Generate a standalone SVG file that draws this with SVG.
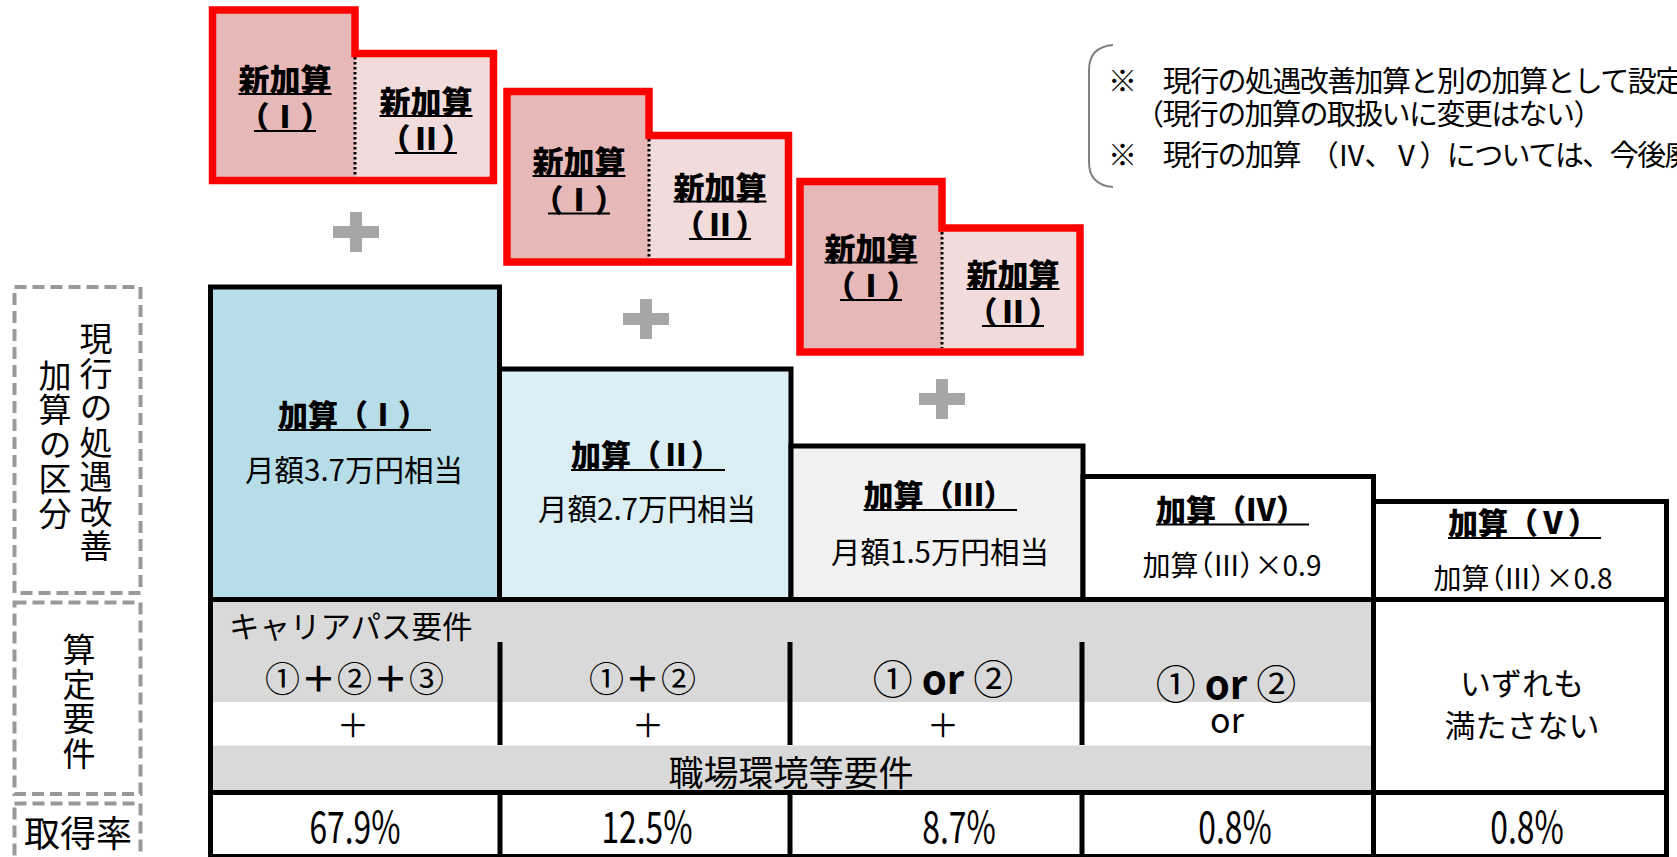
<svg xmlns="http://www.w3.org/2000/svg" width="1677" height="857" viewBox="0 0 1677 857">
<style>
text{font-family:'Noto Sans CJK JP','Noto Sans CJK SC',sans-serif;fill:#000}
.m{text-anchor:middle}
.nb{font-size:31px;font-weight:900;text-anchor:middle}
.hd{font-size:30px;font-weight:900}
.sub{font-size:29.5px;text-anchor:middle}
.sub2{font-size:28px;text-anchor:middle;font-feature-settings:'palt' 1}
.ul{stroke:#000;stroke-width:2}
.redo{fill:none;stroke:#FF0000;stroke-width:7.5;stroke-linejoin:miter}
.pk1{fill:#E6B9B8}
.pk2{fill:#F2DCDB}
.dot{stroke:#000;stroke-width:3;stroke-dasharray:2.5 2.5;fill:none}
.plus{fill:#A6A6A6}
.box{stroke:#000;stroke-width:5}
.dash{fill:none;stroke:#999;stroke-width:4;stroke-dasharray:12 6}
.vl{font-size:33px;text-anchor:middle;writing-mode:vertical-rl;letter-spacing:1.5px}
.ln{stroke:#000;stroke-width:5}
.rate{font-size:43px;text-anchor:middle}
.note{font-size:29px;letter-spacing:-1.6px}
</style>

<!-- New addition blocks -->
<g id="new-add-1">
<rect class="pk1" x="212.5" y="10" width="142.5" height="170.5"/>
<rect class="pk2" x="355" y="53.5" width="138.5" height="127"/>
<path class="dot" d="M355 57V177"/>
<path class="redo" d="M212.5 10H355V53.5H493.5V180.5H212.5Z"/>
<text class="nb" x="285" y="91">新加算</text>
<text class="nb" x="285" y="128">（Ⅰ）</text>
<text class="nb" x="426" y="113">新加算</text>
<text class="nb" x="426" y="150">（Ⅱ）</text>
<path class="ul" d="M238.5 94H331.5M254 131H316M379.5 116H472.5M395 153H457"/>
</g>

<g id="new-add-2">
<rect class="pk1" x="507" y="91.5" width="142" height="170.5"/>
<rect class="pk2" x="649" y="135.5" width="139.5" height="126.5"/>
<path class="dot" d="M649 139V258"/>
<path class="redo" d="M507 91.5H649V135.5H788.5V262H507Z"/>
<text class="nb" x="579" y="173">新加算</text>
<text class="nb" x="579" y="210.5">（Ⅰ）</text>
<text class="nb" x="720" y="198.5">新加算</text>
<text class="nb" x="720" y="236">（Ⅱ）</text>
<path class="ul" d="M532.5 176H625.5M548 213.5H610M673.5 201.5H766.5M689 239H751"/>
</g>

<g id="new-add-3">
<rect class="pk1" x="800" y="181.5" width="142" height="170.5"/>
<rect class="pk2" x="942" y="228" width="138" height="124"/>
<path class="dot" d="M942 232V348"/>
<path class="redo" d="M800 181.5H942V228H1080V352H800Z"/>
<text class="nb" x="871" y="259.5">新加算</text>
<text class="nb" x="871" y="297">（Ⅰ）</text>
<text class="nb" x="1013" y="286">新加算</text>
<text class="nb" x="1013" y="323">（Ⅱ）</text>
<path class="ul" d="M824.5 262.5H917.5M840 300H902M966.5 289H1059.5M982 326H1044"/>
</g>

<!-- plus connectors -->
<g id="connectors">
<path class="plus" d="M350 212H362V226H379V238H362V252H350V238H333V226H350Z"/>
<path class="plus" d="M640 299H652V313H669V325H652V339H640V325H623V313H640Z"/>
<path class="plus" d="M936 379H948V393H965V405H948V419H936V405H919V393H936Z"/>
</g>

<!-- Note -->
<g id="note">
<path d="M1113 45Q1089 47 1089 70V162Q1089 185 1113 187" fill="none" stroke="#808080" stroke-width="2"/>
<text class="note" x="1108" y="92">※　現行の処遇改善加算と別の加算として設定</text>
<text class="note" x="1135" y="125">（現行の加算の取扱いに変更はない）</text>
<text class="note" x="1108" y="166">※　現行の加算<tspan dx="10">（Ⅳ、Ⅴ）については、今後廃</tspan></text>
</g>

<!-- Left labels -->
<g id="label-current">
<rect class="dash" x="14.5" y="287" width="126" height="306"/>
<text class="vl" x="96" y="443">現行の処遇改善</text>
<text class="vl" x="55" y="445">加算の区分</text>
</g>
<g id="label-req">
<rect class="dash" x="14.5" y="602.5" width="126" height="191.5"/>
<text class="vl" x="79" y="702">算定要件</text>
</g>
<g id="label-rate">
<rect class="dash" x="14.5" y="803.5" width="126" height="80"/>
<text class="m" x="78" y="847" font-size="36">取得率</text>
</g>

<!-- Current addition boxes -->
<g id="box-1">
<rect class="box" x="210.5" y="287" width="289" height="312.5" fill="#B7DDE8"/>
<text class="hd" x="278" y="426">加算（Ⅰ）</text>
<path class="ul" d="M278 430H431"/>
<text class="sub" x="354" y="481">月額3.7万円相当</text>
</g>
<g id="box-2">
<rect class="box" x="499.5" y="369" width="291.5" height="230.5" fill="#DAEEF3"/>
<text class="hd" x="571" y="466">加算（Ⅱ）</text>
<path class="ul" d="M571 470H725"/>
<text class="sub" x="647" y="520">月額2.7万円相当</text>
</g>
<g id="box-3">
<rect class="box" x="791" y="446" width="292" height="153.5" fill="#F2F2F2"/>
<text class="hd" x="863.5" y="506">加算（Ⅲ）</text>
<path class="ul" d="M863.5 510H1017"/>
<text class="sub" x="940" y="563">月額1.5万円相当</text>
</g>
<g id="box-4">
<rect class="box" x="1083" y="476.5" width="290.5" height="123" fill="#FFFFFF"/>
<text class="hd" x="1156" y="520.5">加算（Ⅳ）</text>
<path class="ul" d="M1156 524.5H1309"/>
<text class="sub2" x="1232" y="576">加算（Ⅲ）×0.9</text>
</g>
<g id="box-5">
<rect class="box" x="1373.5" y="501.5" width="293" height="98" fill="#FFFFFF"/>
<text class="hd" x="1448" y="534">加算（Ⅴ）</text>
<path class="ul" d="M1448 538H1601"/>
<text class="sub2" x="1523" y="589">加算（Ⅲ）×0.8</text>
</g>

<!-- Requirements table -->
<g id="requirements">
<rect x="210.5" y="599.5" width="1163" height="193" fill="#D9D9D9"/>
<rect x="210.5" y="702" width="1163" height="43.5" fill="#FFFFFF"/>
<rect x="1373.5" y="599.5" width="293" height="193" fill="#FFFFFF"/>
<text x="229" y="638" font-size="30.5">キャリアパス要件</text>
<text class="m" x="355" y="692" font-size="35" letter-spacing="1">①<tspan font-weight="bold">＋</tspan>②<tspan font-weight="bold">＋</tspan>③</text>
<text class="m" x="643" y="692" font-size="35" letter-spacing="1">①<tspan font-weight="bold">＋</tspan>②</text>
<text class="m" x="943" y="694" font-size="40">① <tspan font-weight="bold">or</tspan> ②</text>
<text class="m" x="1226" y="699" font-size="40">① <tspan font-weight="bold">or</tspan> ②</text>
<text class="m" x="353" y="737" font-size="32">＋</text>
<text class="m" x="648" y="737" font-size="32">＋</text>
<text class="m" x="943" y="737" font-size="32">＋</text>
<text class="m" x="1227" y="733" font-size="34">or</text>
<text class="m" x="791" y="786" font-size="35">職場環境等要件</text>
<text class="m" x="1522" y="695" font-size="31">いずれも</text>
<text class="m" x="1522" y="737" font-size="31">満たさない</text>
<path class="ln" d="M500 642V745M790 642V745M1082 642V745"/>
</g>

<!-- Rates row -->
<g id="rates">
<rect x="210.5" y="792.5" width="1456" height="63" fill="#FFFFFF"/>
<path class="ln" d="M500 792V857M790 792V857M1082 792V857"/>
<text class="rate" transform="translate(355 843) scale(0.74 1)">67.9%</text>
<text class="rate" transform="translate(647 843) scale(0.74 1)">12.5%</text>
<text class="rate" transform="translate(959 843) scale(0.74 1)">8.7%</text>
<text class="rate" transform="translate(1235 843) scale(0.74 1)">0.8%</text>
<text class="rate" transform="translate(1527 843) scale(0.74 1)">0.8%</text>
</g>

<!-- Table grid -->
<g id="grid">
<path class="ln" d="M208 599.5H1669M208 792.5H1669M210.5 597V857M1373.5 597V857M1666.5 597V857"/>
<path d="M208 855.5H1669" stroke="#000" stroke-width="3"/>
</g>
</svg>
